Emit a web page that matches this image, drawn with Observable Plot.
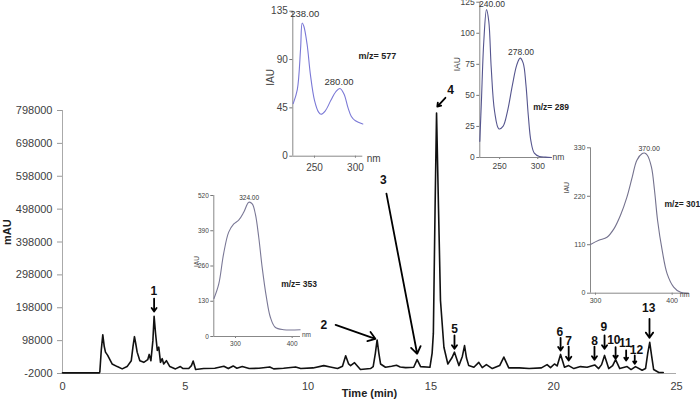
<!DOCTYPE html>
<html><head><meta charset="utf-8">
<script src="https://cdn.jsdelivr.net/npm/d3@7"></script>
<script src="https://cdn.jsdelivr.net/npm/@observablehq/plot@0.6"></script>
<style>
body{margin:0;background:#fff}
#wrap{position:relative;width:700px;height:402px;overflow:hidden;background:#fff}
#wrap svg{position:absolute;overflow:visible}
</style>
</head><body><div id="wrap"></div>
<script>
// ---- main chromatogram ----
const traceTime = [0,1.5,1.52,1.58,1.64,1.70,1.75,1.84,1.95,2.02,2.23,2.43,2.63,2.80,2.87,2.93,2.98,3.04,3.15,3.31,3.47,3.53,3.60,3.68,3.73,3.79,3.86,3.92,3.99,4.06,4.12,4.23,4.37,4.60,4.80,4.91,5.14,5.25,5.32,5.42,5.75,6.2,6.57,6.75,6.95,7.1,7.32,7.6,8.0,8.44,8.6,9.0,9.49,9.7,10.2,10.64,10.9,11.2,11.4,11.53,11.65,11.73,11.89,12.13,12.54,12.65,12.74,12.81,12.88,12.95,13.15,13.4,13.6,13.75,13.97,14.3,14.44,14.58,14.96,15.05,15.10,15.17,15.23,15.31,15.39,15.53,15.69,15.85,15.96,16.14,16.28,16.37,16.45,16.54,16.75,16.95,17.09,17.26,17.5,17.8,17.97,18.17,18.6,19.0,19.5,19.73,19.87,20.03,20.14,20.28,20.44,20.61,20.82,21.09,21.36,21.67,21.83,21.95,22.07,22.24,22.4,22.52,22.69,22.99,23.15,23.33,23.6,23.74,23.83,23.91,23.99,24.07,24.28,24.46];
const traceSignal = [0,0,3000,70000,116000,80000,63000,53000,37000,27000,19000,12000,19000,37000,80000,110000,90000,63000,37000,32000,40000,56000,37000,98000,172000,119000,68000,78000,32000,43000,27000,37000,19000,12000,19000,13000,13000,22000,36000,10000,13000,14000,20000,13000,21000,14000,19000,13000,14000,18000,12000,14000,18000,13000,15000,22000,18000,13000,20000,52000,27000,22000,31000,10000,13000,19000,60000,100000,60000,27000,17000,20000,23000,18000,16000,17000,40000,19000,17000,60000,120000,500000,790000,500000,220000,78000,27000,45000,63000,22000,50000,83000,45000,22000,17000,32000,16000,25000,13000,22000,48000,15000,15000,13000,15000,25000,16000,27000,21000,56000,17000,22000,13000,19000,17000,24000,13000,25000,53000,13000,22000,40000,13000,19000,10000,19000,8000,13000,60000,93000,50000,10000,1000,1000];
const xTicks = [0,5,10,15,20,25];
const yTicks = [-2000,98000,198000,298000,398000,498000,598000,698000,798000];

// peak annotations
const peakIds    = ["1","2","3","4","5","6","7","8","9","10","11","12","13"];
const labelTime  = [3.72,10.64,13.06,15.8,15.96,20.25,20.61,21.66,22.04,22.45,22.92,23.37,23.87];
const labelValue = [248000,144000,585000,859000,134000,123600,96300,96300,139000,100500,90000,70000,198000];
const arrowT1 = [3.73,11.12,13.19,15.59,15.96,20.28,20.61,21.66,22.07,22.52,22.95,23.30,23.90];
const arrowV1 = [226000,146000,545000,836700,113600,106600,80000,80000,113600,78000,68000,52800,164400];
const arrowT2 = [3.73,12.74,14.44,15.26,15.96,20.28,20.61,21.66,22.07,22.52,22.95,23.30,23.90];
const arrowV2 = [186600,103600,58000,810000,73000,68000,37500,39700,73000,42700,37500,27500,106600];

// ---- insets (UV spectra) ----
const s577nm  = [224,229,233,235,237,241,245,250,255,258,263,270,276,281,286,291,295,300,309];
const s577iau = [49,62,100,124,121,104,76,52,41,39,42,52,60,63,58,45,37,33,30];
const s577peaks = [238,280]; const s577peakIAU = [126,63];

const s289nm  = [224,226.1,229.2,232.8,235.8,239,243.4,249.1,254.4,260.2,266.8,272.5,276.9,280.9,284.5,287.5,291.1,295.5,302.1,310,318];
const s289iau = [13,45,93,119,109.5,72,37,23,25,37,58.5,74.6,80,76,58.5,34.4,12.9,3.5,0.8,0.3,0];
const s289peaks = [240,278]; const s289peakIAU = [119,80];

const s353nm  = [262,270.5,279,288,297,306,314.5,323.5,329.5,335,341,347,354.5,361.5,370,385,414];
const s353iau = [140,194,305,385,415,430,458,495,489,452,366,256,145,71,34,25,25];
const s353peaks = [324]; const s353peakIAU = [495];

const s301nm  = [293.5,304.3,315,324,332.6,341,348,354,361,364,367.6,373,377,381,387,393.5,402,411,421.7];
const s301iau = [110.7,120,127,146,177,218,264,302,317,318,313,286,233,165,97,44,14,2,0];
const s301peaks = [370]; const s301peakIAU = [318];

const wrap = document.getElementById("wrap");
const FONT = "'Liberation Sans', Arial, sans-serif";

const trace = traceTime.map((t,i)=>({t, v: traceSignal[i]}));
const ann = peakIds.map((id,i)=>({id, lt:labelTime[i], lv:labelValue[i], t1:arrowT1[i], v1:arrowV1[i], t2:arrowT2[i], v2:arrowV2[i]}));

const main = Plot.plot({
  width:700, height:402, marginLeft:62, marginRight:24, marginTop:110, marginBottom:29,
  style:{fontFamily:FONT, fontSize:"11px", background:"transparent", color:"#404040"},
  x:{domain:[0,25]}, y:{domain:[-2000,798000]},
  marks:[
    Plot.axisX({ticks:xTicks, tickSize:0, tickPadding:9, label:null, fill:"#404040"}),
    Plot.axisY({ticks:yTicks, tickSize:5, tickPadding:5, tickFormat:d=>String(d), label:null, stroke:"#999", fill:"#404040"}),
    Plot.ruleX([0],{stroke:"#aaa"}),
    Plot.ruleY([-2000],{stroke:"#aaa"}),
    Plot.line(trace,{x:"t", y:"v", stroke:"#111", strokeWidth:1.6}),
    Plot.arrow(ann,{x1:"t1", y1:"v1", x2:"t2", y2:"v2", stroke:"#000", strokeWidth:1.8, headLength:7, headAngle:70}),
    Plot.text(ann,{x:"lt", y:"lv", text:"id", fontWeight:"bold", fontSize:12, fill:"#111"}),
    Plot.text(["Time (min)"],{frameAnchor:"bottom", dy:23, fontWeight:"bold", fontSize:11, fill:"#222"}),
    Plot.text(["mAU"],{frameAnchor:"left", dx:-55, dy:3, rotate:-90, fontWeight:"bold", fontSize:11, fill:"#222"})
  ]
});
main.style.left="0px"; main.style.top="0px";
wrap.appendChild(main);

function inset(o){
  const data = o.nm.map((n,i)=>({n, a:o.iau[i]}));
  const peaks = o.peaks.map((p,i)=>({n:p, a:o.peakIAU[i], t:p.toFixed(2)}));
  const svg = Plot.plot({
    width:o.w, height:o.h, marginLeft:o.ml, marginRight:o.mr, marginTop:o.mt, marginBottom:o.mb,
    style:{fontFamily:FONT, fontSize:o.fs+"px", background:"transparent", color:"#444", overflow:"visible"},
    x:{domain:o.xd}, y:{domain:o.yd},
    marks:[
      Plot.axisX({ticks:o.xt, tickSize:2, tickPadding:o.xpad, label:null, stroke:"#777", fill:"#444"}),
      Plot.axisY({ticks:o.yt, tickSize:3, tickPadding:2, label:null, stroke:"#777", fill:"#444"}),
      Plot.ruleX([o.xd[0]],{stroke:"#888"}),
      Plot.ruleY([0],{stroke:"#888"}),
      Plot.line(data,{x:"n", y:"a", stroke:o.color, strokeWidth:1.1, curve:"catmull-rom"}),
      Plot.text(peaks,{x:"n", y:"a", text:"t", dy:o.pdy, fill:"#333", fontSize:o.pfs}),
      Plot.text(["nm"],{frameAnchor:"bottom-right", textAnchor:"start", dx:o.nmdx, dy:o.nmdy, fill:"#444", fontSize:o.fs}),
      Plot.text(["IAU"],{frameAnchor:"left", dx:o.iaudx, dy:o.iaudy, rotate:-90, fill:"#444", fontSize:o.ifs}),
      Plot.text([o.mz],{frameAnchor:"top-right", textAnchor:"start", dx:o.mzdx, dy:o.mzdy, fontWeight:"bold", fill:"#222", fontSize:o.mzfs})
    ]
  });
  svg.style.left=o.left+"px"; svg.style.top=o.top+"px";
  wrap.appendChild(svg);
}

inset({nm:s577nm, iau:s577iau, peaks:s577peaks, peakIAU:s577peakIAU, mz:"m/z= 577",
  left:250, top:0, w:160, h:175, ml:42.3, mr:47.7, mt:10.7, mb:19.3,
  xd:[223.5,309], yd:[0,135], xt:[250,300], yt:[0,45,90,135], color:"#7a78d6",
  fs:10, pfs:9.5, xpad:6, pdy:-7, nmdx:4, nmdy:6, iaudx:-21.6, iaudy:2, ifs:10,
  mzdx:-4.3, mzdy:41.3, mzfs:9});

inset({nm:s289nm, iau:s289iau, peaks:s289peaks, peakIAU:s289peakIAU, mz:"m/z= 289",
  left:430, top:0, w:150, h:175, ml:49.3, mr:29, mt:1.7, mb:18,
  xd:[224,318], yd:[0,125], xt:[250,300], yt:[0,25,50,75,100,125], color:"#55558e",
  fs:8.5, pfs:8.5, xpad:3, pdy:-5.5, nmdx:1, nmdy:2, iaudx:-22.6, iaudy:-8.6, ifs:8.5,
  mzdx:-18.3, mzdy:101.6, mzfs:8.5});

inset({nm:s353nm, iau:s353iau, peaks:s353peaks, peakIAU:s353peakIAU, mz:"m/z= 353",
  left:180, top:180, w:150, h:170, ml:33.3, mr:30, mt:15, mb:14,
  xd:[261.7,414.7], yd:[0,520], xt:[300,400], yt:[0,130,260,390,520], color:"#7a7896",
  fs:6.5, pfs:6.5, xpad:3, pdy:-4.5, nmdx:1.5, nmdy:0, iaudx:-17.3, iaudy:1, ifs:6.5,
  mzdx:-19.3, mzdy:85, mzfs:8.5});

inset({nm:s301nm, iau:s301iau, peaks:s301peaks, peakIAU:s301peakIAU, mz:"m/z= 301",
  left:550, top:130, w:150, h:180, ml:40, mr:11.7, mt:17.3, mb:17.3,
  xd:[293.5,421.7], yd:[0,330], xt:[300,400], yt:[0,110,220,330], color:"#74728e",
  fs:7, pfs:7, xpad:2.5, pdy:-4, nmdx:-9, nmdy:4, iaudx:-23.3, iaudy:-27, ifs:7,
  mzdx:-24.3, mzdy:53.4, mzfs:8.5});
</script></body></html>
